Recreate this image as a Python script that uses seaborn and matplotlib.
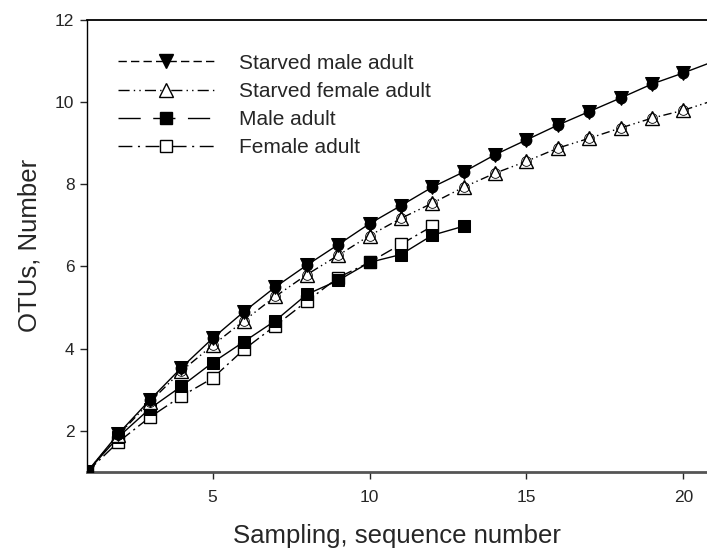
import numpy as np
import pandas as pd
import seaborn as sns
from matplotlib import pyplot as plt
from matplotlib.lines import Line2D

# sampling index
x_starved = list(range(1, 22))
x_male = list(range(1, 14))
x_female = list(range(1, 13))

starved_male = [1.0, 1.93, 2.75, 3.53, 4.25, 4.9, 5.5, 6.03, 6.53, 7.04, 7.48,
                7.93, 8.3, 8.72, 9.08, 9.44, 9.77, 10.1, 10.44, 10.71, 11.0]
starved_female = [1.0, 1.9, 2.7, 3.45, 4.08, 4.68, 5.27, 5.8, 6.27, 6.75, 7.17,
                  7.54, 7.93, 8.27, 8.56, 8.88, 9.12, 9.37, 9.61, 9.8, 10.05]
male_adult = [1.0, 1.85, 2.54, 3.08, 3.66, 4.17, 4.68, 5.32, 5.66, 6.1, 6.29, 6.76, 6.98]
female_adult = [1.0, 1.73, 2.33, 2.84, 3.28, 3.98, 4.56, 5.15, 5.73, 6.1, 6.54, 6.98]

labels = ['Starved male adult', 'Starved female adult', 'Male adult', 'Female adult']
x_ticks = [5, 10, 15, 20]
y_ticks = [2, 4, 6, 8, 10, 12]

sns.set_style('ticks')
plt.rcParams['font.family'] = ['Liberation Sans', 'DejaVu Sans']

fig = plt.figure(figsize=(7.07, 5.52), dpi=100)
ax = fig.add_axes([0.123, 0.145, 0.877, 0.819])

df_sm = pd.DataFrame({'x': x_starved, 'y': starved_male})
df_sf = pd.DataFrame({'x': x_starved, 'y': starved_female})
df_m = pd.DataFrame({'x': x_male, 'y': male_adult})
df_f = pd.DataFrame({'x': x_female, 'y': female_adult})

lw = 1.0
# female adult: dash-dot, open squares
sns.lineplot(data=df_f, x='x', y='y', ax=ax, color='black', lw=lw,
             linestyle=(0, (9, 3, 1.5, 3)), marker='s', markersize=8.5,
             markerfacecolor='white', markeredgecolor='black', markeredgewidth=1.0,
             estimator=None, sort=False, zorder=3)
# male adult: solid, filled squares
sns.lineplot(data=df_m, x='x', y='y', ax=ax, color='black', lw=lw,
             linestyle='-', marker='s', markersize=8.5,
             markerfacecolor='black', markeredgecolor='black',
             estimator=None, sort=False, zorder=3)
# starved female: dash-dot-dot, open triangles
sns.lineplot(data=df_sf, x='x', y='y', ax=ax, color='black', lw=lw,
             linestyle=(0, (6, 2.5, 1, 2.5, 1, 2.5)), marker='^', markersize=9.5,
             markerfacecolor='white', markeredgecolor='black', markeredgewidth=1.0,
             estimator=None, sort=False, zorder=4)
ax.plot(x_starved, starved_female, linestyle='none', marker='o', markersize=7,
        markerfacecolor='none', markeredgecolor='black', markeredgewidth=0.6, zorder=4)
# starved male: solid, filled triangles with dots
sns.lineplot(data=df_sm, x='x', y='y', ax=ax, color='black', lw=lw,
             linestyle='-', marker='v', markersize=9.5,
             markerfacecolor='black', markeredgecolor='black',
             estimator=None, sort=False, zorder=5)
ax.plot(x_starved, starved_male, linestyle='none', marker='o', markersize=7.5,
        color='black', zorder=5)

ax.set_xlim(1, 20.75)
ax.set_ylim(1, 12)
ax.set_xticks(x_ticks)
ax.set_yticks(y_ticks)
ax.tick_params(axis='x', direction='out', length=5, width=1, pad=8, labelsize=12.5)
ax.tick_params(axis='y', direction='out', length=5, width=1, pad=4, labelsize=12.5)
ax.set_xlabel('Sampling, sequence number', fontsize=18.5, labelpad=14)
ax.set_ylabel('OTUs, Number', fontsize=18.5, labelpad=10)

ax.spines['right'].set_visible(False)
ax.spines['top'].set_visible(True)
ax.spines['top'].set_linewidth(1.3)
ax.spines['top'].set_color('black')
ax.spines['left'].set_color('black')
ax.spines['left'].set_linewidth(1.0)
ax.spines['bottom'].set_color('#555555')
ax.spines['bottom'].set_linewidth(2.0)

handles = [
    Line2D([], [], color='black', lw=lw, linestyle=(0, (6, 3)), marker='v',
           markersize=9.5, markerfacecolor='black'),
    Line2D([], [], color='black', lw=lw, linestyle=(0, (8, 3, 1, 3, 1, 3)), marker='^',
           markersize=9.5, markerfacecolor='white', markeredgecolor='black'),
    Line2D([], [], color='black', lw=lw, linestyle=(0, (16, 9)), marker='s',
           markersize=8.5, markerfacecolor='black'),
    Line2D([], [], color='black', lw=lw, linestyle=(0, (10, 4, 1.5, 4)), marker='s',
           markersize=8.5, markerfacecolor='white', markeredgecolor='black'),
]
ax.legend(handles=handles, labels=labels, loc='upper left', bbox_to_anchor=(0.05, 0.925),
          frameon=False, fontsize=15, handlelength=4.6, handletextpad=1.2,
          labelspacing=0.44, borderpad=0, borderaxespad=0)

fig.savefig('out.png', dpi=100)
